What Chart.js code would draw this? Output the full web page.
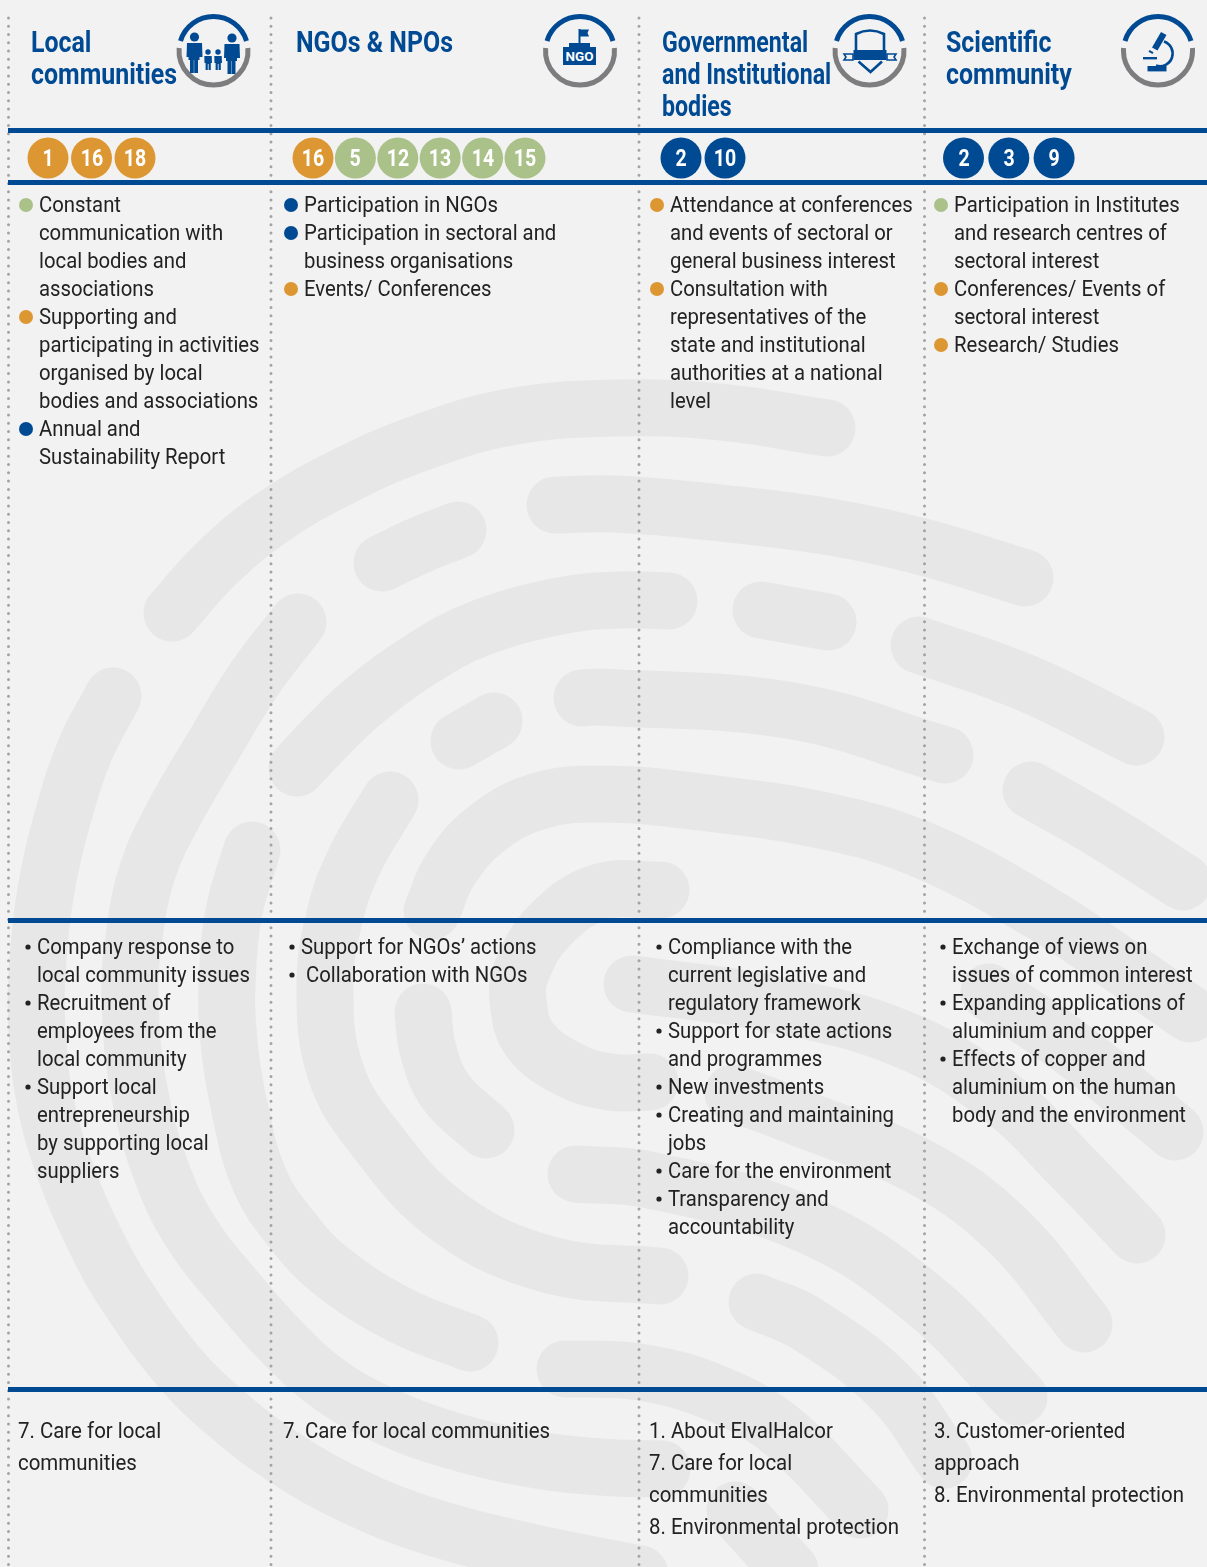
<!DOCTYPE html>
<html><head><meta charset="utf-8">
<script src="https://cdn.jsdelivr.net/npm/chart.js@4"></script>
<style>
html,body{margin:0;padding:0;background:#f2f2f2;}
#wrap{position:relative;width:1207px;height:1567px;overflow:hidden;background:#f2f2f2;}
canvas{position:absolute;left:0;top:0;}
.t{position:absolute;white-space:nowrap;transform-origin:0 50%;font-family:Roboto,sans-serif;}
.body{font-size:22.5px;font-weight:400;color:#222;line-height:28px;}
.head{font-size:29px;font-weight:700;color:#004a93;line-height:32px;}
.badge{font-size:23px;font-weight:700;color:#fff;line-height:28px;}
svg{position:absolute;left:0;top:0;}
</style></head><body><div id="wrap"><canvas id="c" width="1207" height="1567"></canvas></div>
<script>
// ---- text content ----
const headings = [["Local","communities"],["NGOs & NPOs"],["Governmental","and Institutional","bodies"],["Scientific","community"]];
const goals1 = [1,16,18];
const goals2 = [16,5,12,13,14,15];
const goals3 = [2,10];
const goals4 = [2,3,9];
const goalColors1 = ["o","o","o"];
const goalColors2 = ["o","g","g","g","g","g"];
const goalColors3 = ["b","b"];
const goalColors4 = ["b","b","b"];
const ways1 = [["Constant","communication with","local bodies and","associations"],["Supporting and","participating in activities","organised by local","bodies and associations"],["Annual and","Sustainability Report"]];
const ways2 = [["Participation in NGOs"],["Participation in sectoral and","business organisations"],["Events/ Conferences"]];
const ways3 = [["Attendance at conferences","and events of sectoral or","general business interest"],["Consultation with","representatives of the","state and institutional","authorities at a national","level"]];
const ways4 = [["Participation in Institutes","and research centres of","sectoral interest"],["Conferences/ Events of","sectoral interest"],["Research/ Studies"]];
const wayColors1 = ["g","o","b"];
const wayColors2 = ["b","b","o"];
const wayColors3 = ["o","o"];
const wayColors4 = ["g","o","o"];
const topics1 = [["Company response to","local community issues"],["Recruitment of","employees from the","local community"],["Support local","entrepreneurship","by supporting local","suppliers"]];
const topics2 = [["Support for NGOs’ actions"],[" Collaboration with NGOs"]];
const topics3 = [["Compliance with the","current legislative and","regulatory framework"],["Support for state actions","and programmes"],["New investments"],["Creating and maintaining","jobs"],["Care for the environment"],["Transparency and","accountability"]];
const topics4 = [["Exchange of views on","issues of common interest"],["Expanding applications of","aluminium and copper"],["Effects of copper and","aluminium on the human","body and the environment"]];
const refs1 = ["7. Care for local","communities"];
const refs2 = ["7. Care for local communities"];
const refs3 = ["1. About ElvalHalcor","7. Care for local","communities","8. Environmental protection"];
const refs4 = ["3. Customer-oriented","approach","8. Environmental protection"];

// ---- background fingerprint ridges ----
const ridgeR1 = [[172,613],[215,565],[270,519],[340,478],[420,443],[510,417],[615,408],[720,412],[827,428]];
const ridgeR2 = [[555,505],[615,504],[720,513],[830,527],[923,547],[1025,578]];
const ridgeR3 = [[382,563],[420,545],[458,530]];
const ridgeR4 = [[297,768],[330,733],[364,701],[420,660],[478,629],[560,606],[620,600],[669,601]];
const ridgeR5 = [[761,610],[828,622]];
const ridgeR6 = [[919,645],[1026,683],[1136,737]];
const ridgeR7 = [[582,698],[600,697],[793,711],[945,755]];
const ridgeR8 = [[459,741],[494,721]];
const ridgeA = [[113,696],[85,750],[62,820],[46,890],[38,960],[37,1030],[47,1110],[69,1181],[95,1240],[122,1289],[178,1366],[228,1415],[285,1458],[355,1497],[432,1527],[530,1552],[640,1574]];
const ridgeB = [[298,622],[255,678],[214,745],[172,817],[148,870],[135,930],[130,1000],[140,1095],[165,1181],[196,1240],[235,1289],[280,1340],[330,1385],[390,1418],[450,1440],[525,1458],[600,1467],[662,1469]];
const ridgeC = [[252,850],[235,907],[228,965],[228,1030],[240,1110],[260,1181],[292,1230],[330,1270],[400,1315],[470,1343]];
const ridgeD = [[390,800],[355,860],[335,915],[325,985],[335,1070],[373,1136],[450,1218],[550,1265],[660,1276]];
const ridgeE = [[423,1012],[428,1050],[446,1092],[486,1130]];
const ridgeF = [[432,911],[450,870],[485,830],[536,802],[600,794],[700,802],[830,822],[925,851],[1040,912],[1120,965],[1190,1014]];
const ridgeG = [[733,1093],[800,1118],[920,1167],[1007,1230],[1084,1324]];
const ridgeH = [[757,1302],[807,1324],[890,1387],[944,1460]];
const ridgeI = [[576,1174],[650,1180],[807,1225],[924,1300],[1019,1397]];
const ridgeJ = [[661,890],[600,892],[550,925],[522,970],[518,1000],[530,1040],[570,1070],[610,1082],[650,1082]];
const ridgeK = [[632,984],[767,1003],[900,1038],[1000,1097],[1072,1167],[1137,1235]];
const ridgeL = [[565,1369],[640,1372],[720,1395],[783,1432],[860,1510]];
const ridgeM = [[735,1510],[790,1570]];
const ridgeN = [[1031,790],[1103,831],[1183,882]];
const ridgeO = [[989,992],[1074,1050],[1175,1132]];
const ridges = [ridgeR1,ridgeR2,ridgeR3,ridgeR4,ridgeR5,ridgeR6,ridgeR7,ridgeR8,ridgeA,ridgeB,ridgeC,ridgeD,ridgeE,ridgeF,ridgeG,ridgeH,ridgeI,ridgeJ,ridgeK,ridgeL,ridgeM,ridgeN,ridgeO];

// ---- layout ----
const ruleRows = [130.5,182.5,920.5,1389.5];
const colLines = [8.5,271,639,924.5];
const palette = {o:"#dc9732",g:"#abc18a",b:"#004a93"};
const BLUE = "#004a93";

const wrap = document.getElementById('wrap');
const meas = document.createElement('canvas').getContext('2d');
function fit(str,font,target){meas.font=font;return target/meas.measureText(str).width;}
const kBody = fit("body and the environment","400 22.5px Roboto",234);
const kRef = fit("8. Environmental protection","400 22.5px Roboto",250);
const kHead = fit("communities","700 29px Roboto",146);
function addText(str,x,y,cls,k,center){
  const d=document.createElement('div');d.className='t '+cls;d.textContent=str;
  wrap.appendChild(d);
  const h=d.offsetHeight;
  d.style.left=x+'px';d.style.top=(y-h/2)+'px';
  d.style.whiteSpace='pre';
  if(center){d.style.transformOrigin='50% 50%';d.style.transform='translateX(-50%) scaleX('+k+')';}
  else d.style.transform='scaleX('+k+')';
}

// ---- build datasets ----
const bulletPts=[];
const badgePts=[];
const dots=[];
const goalSets=[[goals1,goalColors1,48,43.5],[goals2,goalColors2,313,42.4],[goals3,goalColors3,681,44],[goals4,goalColors4,963.5,45.3]];
goalSets.forEach(([g,c,sx,st])=>g.forEach((v,i)=>badgePts.push({x:sx+i*st,y:158,label:v,color:palette[c[i]]})));

const wayCols=[[ways1,wayColors1,26,38.5],[ways2,wayColors2,291,303.5],[ways3,wayColors3,657,669.5],[ways4,wayColors4,941,954]];
wayCols.forEach(([items,cols,bx,tx])=>{
  let row=0;
  items.forEach((lines,i)=>{
    bulletPts.push({x:bx,y:205+row*28,color:palette[cols[i]]});
    lines.forEach(l=>{addText(l,tx,204+row*28,'body',kBody);row++;});
  });
});
const topicCols=[[topics1,28,37],[topics2,292,301],[topics3,659,667.5],[topics4,943,952]];
topicCols.forEach(([items,bx,tx])=>{
  let row=0;
  items.forEach(lines=>{
    dots.push({x:bx,y:947+row*28});
    lines.forEach(l=>{addText(l,tx,946+row*28,'body',kBody);row++;});
  });
});
[[refs1,18],[refs2,283],[refs3,649],[refs4,934]].forEach(([ls,x])=>ls.forEach((l,i)=>addText(l,x,1430+i*32,'body',kRef)));
[[headings[0],31,1],[headings[1],296,1],[headings[2],662,0.93],[headings[3],946,1]].forEach(([ls,x,f])=>ls.forEach((l,i)=>addText(l,x,42+i*32,'head',kHead*f)));

const line=(pts,o)=>Object.assign({data:pts.map(([x,y])=>({x,y})),showLine:true,pointRadius:0,fill:false,clip:false,tension:0,capBezierPoints:false},o);
const datasets=[
  {data:badgePts,showLine:false,pointRadius:20.5,pointBackgroundColor:badgePts.map(p=>p.color),pointBorderWidth:0,clip:false},
  {data:bulletPts,showLine:false,pointRadius:7,pointBackgroundColor:bulletPts.map(p=>p.color),pointBorderWidth:0,clip:false},
  {data:dots,showLine:false,pointRadius:2.6,pointBackgroundColor:"#222",pointBorderWidth:0,clip:false},
  ...ruleRows.map(y=>line([[8,y],[1207,y]],{borderColor:BLUE,borderWidth:5})),
  ...colLines.map(x=>line([[x,18],[x,1567]],{borderColor:"#a3a3a5",borderWidth:3,borderDash:[0,8.27],borderCapStyle:'round'})),
  ...ridges.map(r=>line(r,{borderColor:"#e7e7e8",borderWidth:57,borderCapStyle:'round',borderJoinStyle:'round',tension:0.4}))
];
const chart=new Chart(document.getElementById('c'),{
  type:'scatter',
  data:{datasets},
  options:{responsive:false,animation:false,devicePixelRatio:1,
    layout:{padding:0,autoPadding:false},
    plugins:{legend:{display:false},tooltip:{enabled:false}},
    events:[],
    scales:{x:{type:'linear',display:false,min:0,max:1207},y:{type:'linear',display:false,reverse:true,min:0,max:1567}}}
});
badgePts.forEach(p=>addText(String(p.label),chart.scales.x.getPixelForValue(p.x),chart.scales.y.getPixelForValue(p.y)+1,'badge',0.85,true));

// ---- icons ----
const ring=(cx)=>`<g fill="none" stroke-width="5"><path d="M${cx-33} 41 A34.5 34.5 0 0 1 ${cx+33} 41" stroke="${BLUE}"/><path d="M${cx-34.4} 48 A34.5 34.5 0 1 0 ${cx+34.4} 48" stroke="#7d7d80"/></g>`;
const adult=(x,y)=>`<circle cx="${x}" cy="${y}" r="4.6"/><path d="M${x-7.5} ${y+6}h15l.5 14h-3v3h-1.5v13h-3.8v-13h-.4v13h-3.8v-13h-1.5v-3h-2z"/>`;
const kid=(x)=>`<circle cx="${x}" cy="52" r="2.7"/><path d="M${x-3.7} 56h7.4l.3 7h-1.2v7h-2.2v-6h-.8v6h-2.2v-7h-1.1z"/>`;
const svg=`<svg width="1207" height="130" viewBox="0 0 1207 130" xmlns="http://www.w3.org/2000/svg">
${ring(213.5)}${ring(580)}${ring(869.5)}${ring(1158)}
<g fill="${BLUE}">${adult(194.5,37)}${adult(232,38)}${kid(208)}${kid(218)}</g>
<g fill="${BLUE}"><rect x="578.5" y="29" width="2" height="14"/><path d="M580 29.5h9l-1.5 3.5 1.5 3.5h-9z"/><rect x="569" y="43" width="21" height="5"/><rect x="563" y="47" width="33" height="18"/>
<text x="579.5" y="60.5" text-anchor="middle" font-family="Roboto" font-weight="700" font-size="13.5" fill="#fff">NGO</text></g>
<g fill="none" stroke="${BLUE}" stroke-width="2.6"><path d="M856 50V34q14-7 28 0V50"/><path d="M858.5 61.5L870.5 72L882 61.5"/></g>
<g fill="${BLUE}"><rect x="853.5" y="50" width="33" height="10"/></g>
<g fill="none" stroke="${BLUE}" stroke-width="1.6"><path d="M853 54H844l2 3-2 3h9zM887 54h9l-2 3 2 3h-9z"/></g>
<g fill="${BLUE}"><path d="M1161 32l5.5 3-9 15.5-5.5-3z"/><path d="M1149.5 50l4 2.2-1 1.8-4-2.2z"/><rect x="1143" y="57" width="14" height="2.4"/><rect x="1147.5" y="66" width="19" height="5.4"/></g>
<path d="M1164 41.5A12.5 12.5 0 0 1 1156 65.5" fill="none" stroke="${BLUE}" stroke-width="2.6"/>
</svg>`;
wrap.insertAdjacentHTML('beforeend',svg);
</script></body></html>
